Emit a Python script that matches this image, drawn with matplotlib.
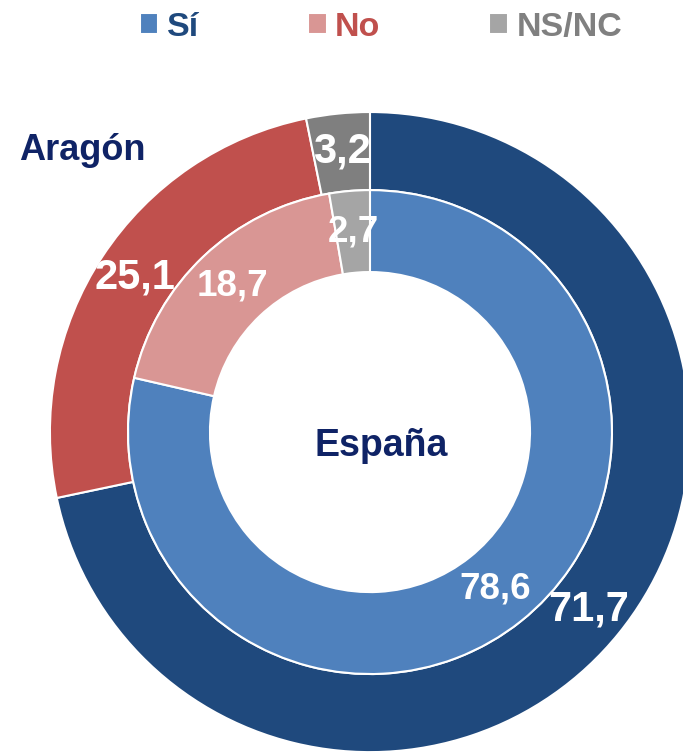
import matplotlib
matplotlib.use("Agg")
import matplotlib.pyplot as plt

plt.rcParams['font.family'] = ['Liberation Sans', 'DejaVu Sans']

categories = ["Sí", "No", "NS/NC"]
aragon = [71.7, 25.1, 3.2]
espana = [78.6, 18.7, 2.7]

outer_colors = ["#1F497D", "#C0504D", "#7F7F7F"]
inner_colors = ["#4F81BD", "#D99694", "#A5A5A5"]
legend_text_colors = ["#1F497D", "#C0504D", "#808080"]
title_color = "#0F2366"


def fmt(p):
    return f"{p:.1f}".replace(".", ",")


fig = plt.figure(figsize=(6.83, 7.55), dpi=100)
ax = fig.add_axes([0, 0, 1, 1])

# outer ring: Aragón
ax.pie(aragon, radius=1.0, colors=outer_colors, startangle=90, counterclock=False,
       wedgeprops=dict(width=0.244, edgecolor="white", linewidth=1.5),
       autopct=fmt, pctdistance=0.88,
       textprops=dict(color="white", fontsize=30, fontweight="bold"))

# inner ring: España
wedges_in, _, _ = ax.pie(espana, radius=0.756, colors=inner_colors, startangle=90,
                         counterclock=False,
                         wedgeprops=dict(width=0.256, edgecolor="white", linewidth=1.5),
                         autopct=fmt, pctdistance=0.83,
                         textprops=dict(color="white", fontsize=26.5, fontweight="bold"))

ax.set_xlim(-1.156, 0.978)
ax.set_ylim(-1.009, 1.35)
ax.set_aspect("equal")
ax.axis("off")

ax.text(0.035, -0.045, "España", ha="center", va="center", fontsize=27,
        fontweight="bold", color=title_color)
ax.text(-0.9, 0.88, "Aragón", ha="center", va="center", fontsize=26,
        fontweight="bold", color=title_color)

leg = fig.legend(wedges_in, categories, loc="center", bbox_to_anchor=(0.558, 0.964),
                 ncol=3, frameon=False, handlelength=0.55, handleheight=0.55,
                 handletextpad=0.25, columnspacing=3.2,
                 prop=dict(size=24.5, weight="bold"))
for txt, c in zip(leg.get_texts(), legend_text_colors):
    txt.set_color(c)

fig.savefig("out.png", dpi=100)
